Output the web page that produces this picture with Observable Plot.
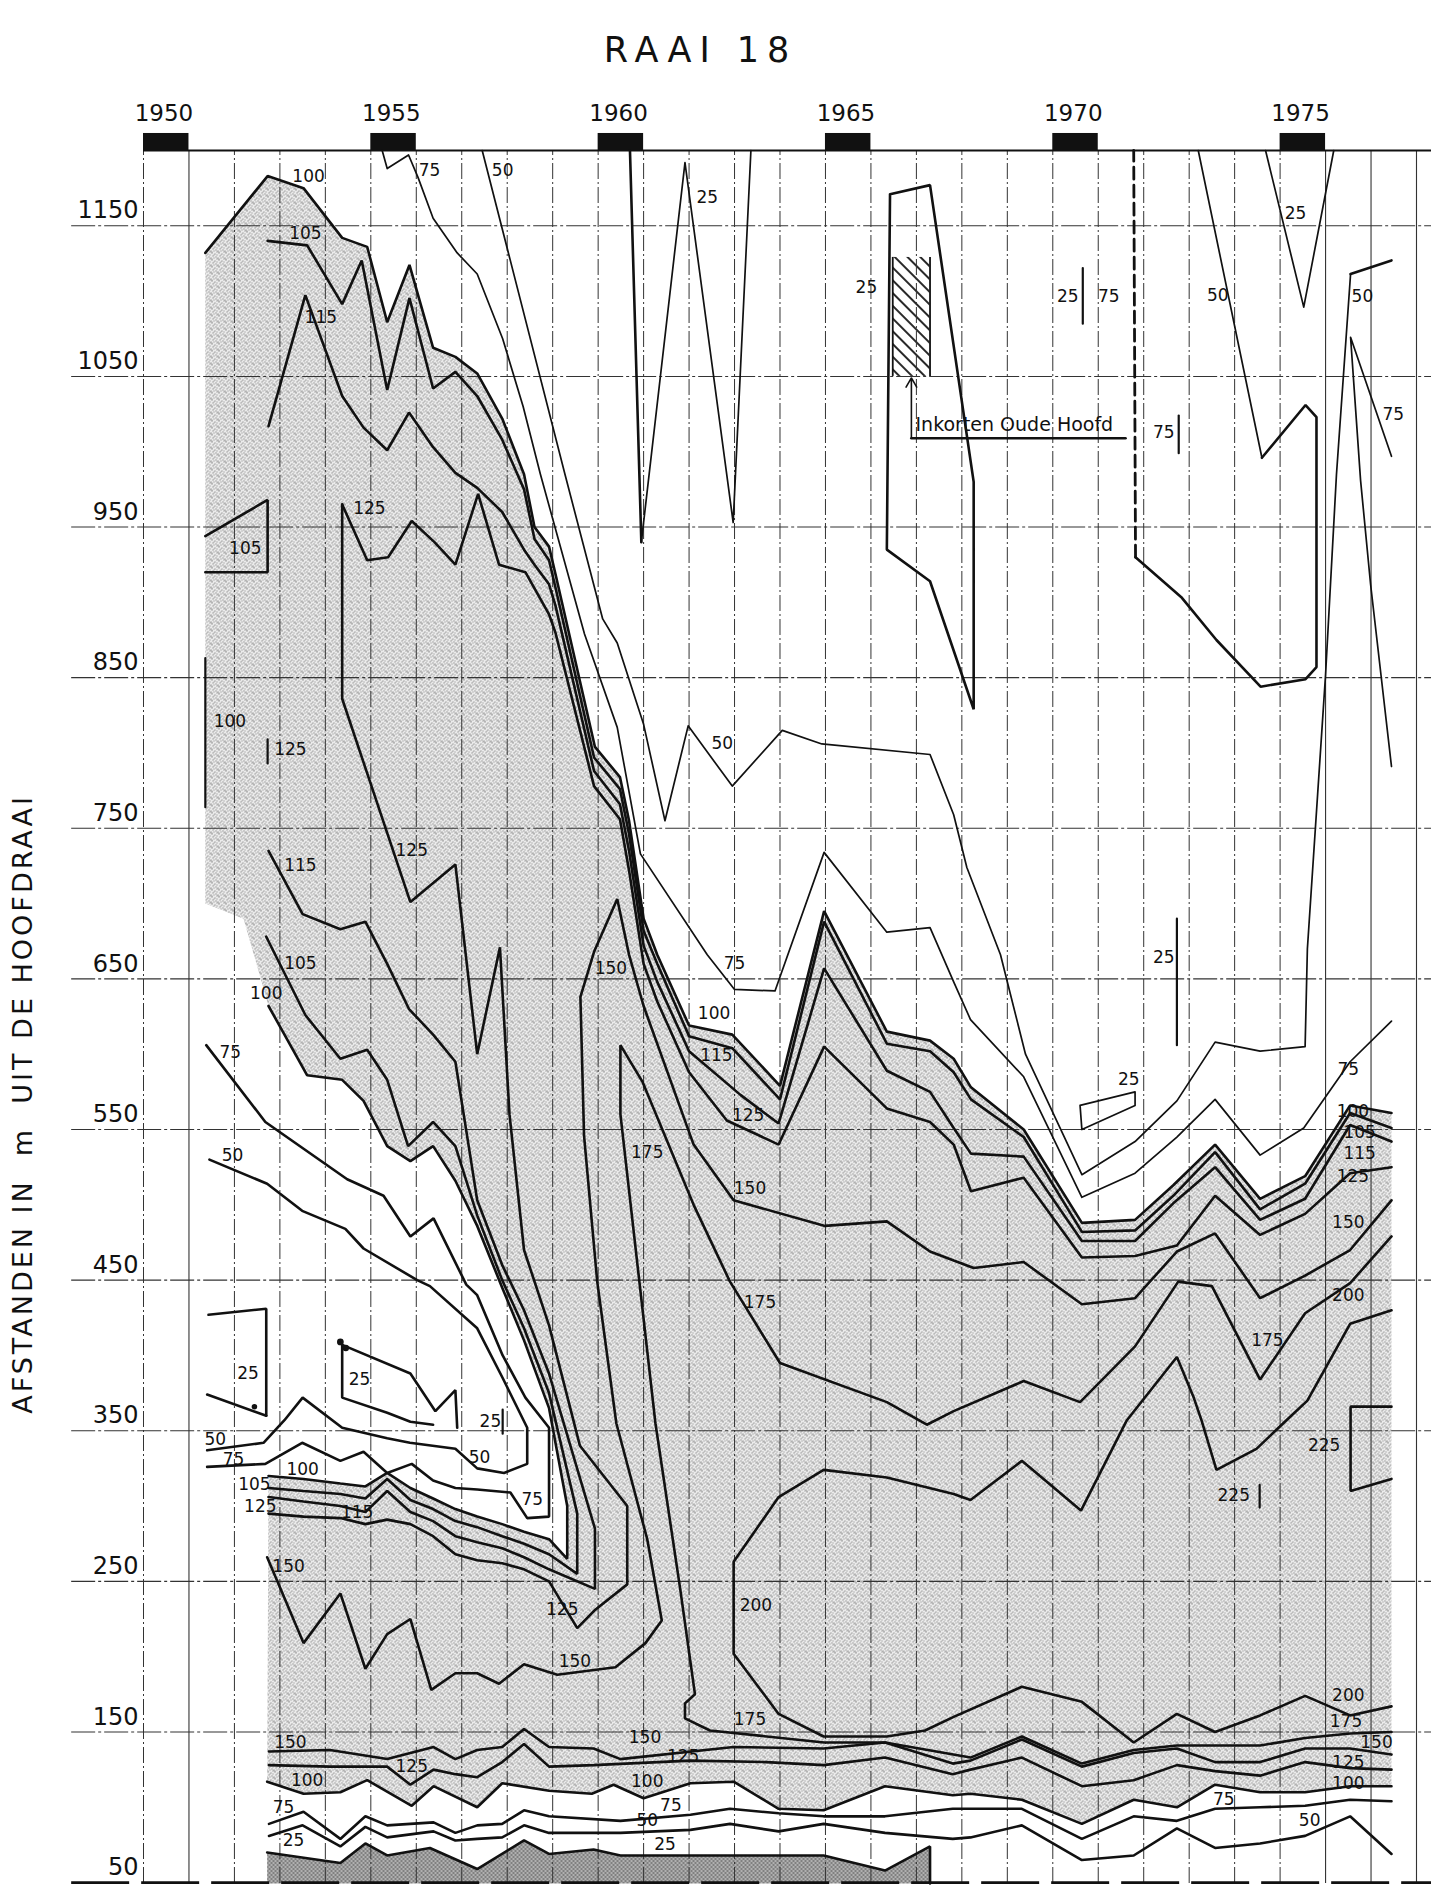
<!DOCTYPE html>
<html><head><meta charset="utf-8">
<script src="https://cdn.jsdelivr.net/npm/d3@7"></script>
<script src="https://cdn.jsdelivr.net/npm/@observablehq/plot@0.6"></script>
<style>html,body{margin:0;padding:0;background:#fff}</style>
</head><body>
<div id="chart"></div>
<script>
// ---------- axes / ticks ----------
const gridYears = d3.range(1950, 1979);
const solidYears = [1951, 1976, 1977, 1978];
const yearLabels = [1950, 1955, 1960, 1965, 1970, 1975];
const yTicks = [1150, 1050, 950, 850, 750, 650, 550, 450, 350, 250, 150, 50];

// ---------- contour lines: [year, distance m] ----------
const c100_top = [[1951.36,1132],[1952.73,1183],[1953.52,1175],[1954.37,1142],[1954.92,1136],[1955.36,1086],[1955.85,1124],[1956.37,1069],[1956.86,1063],[1957.34,1052],[1957.89,1022],[1958.37,985],[1958.6,950],[1958.92,937],[1959.06,919],[1959.93,804],[1960.48,784],[1960.68,755],[1961.0,690],[1961.3,666],[1962.0,619],[1962.95,613],[1964.0,579],[1964.97,695],[1966.35,615],[1967.3,609],[1967.82,597],[1968.2,578],[1969.36,550],[1970.64,488],[1971.81,490],[1972.65,513],[1973.57,540],[1974.56,504],[1975.55,519],[1976.54,566],[1977.45,561]];
const c105_top = [[1952.73,1140],[1953.6,1137],[1954.37,1098],[1954.8,1127],[1955.36,1041],[1955.85,1102],[1956.37,1042],[1956.86,1053],[1957.34,1037],[1957.89,1008],[1958.37,975],[1958.6,942],[1958.92,928],[1959.06,910],[1959.91,797],[1960.48,776],[1960.68,746],[1961.0,682],[1961.3,660],[1962.0,612],[1962.95,604],[1964.0,570],[1964.97,688],[1966.35,607],[1967.3,602],[1967.82,588],[1968.2,570],[1969.36,545],[1970.64,482],[1971.81,483],[1972.65,506],[1973.57,535],[1974.56,497],[1975.55,514],[1976.54,561],[1977.45,551]];
const c115_top = [[1952.75,1017],[1953.56,1104],[1954.37,1037],[1954.84,1016],[1955.36,1001],[1955.84,1026],[1956.37,1003],[1956.86,986],[1957.34,976],[1957.89,960],[1958.37,935],[1958.6,925],[1958.92,912],[1959.06,898],[1959.91,788],[1960.48,766],[1960.68,735],[1961.0,672],[1961.3,648],[1962.0,602],[1963.13,573],[1963.97,554],[1964.97,657],[1966.35,589],[1967.3,575],[1967.82,551],[1968.2,534],[1969.36,532],[1970.64,476],[1971.81,476],[1972.65,501],[1973.57,525],[1974.56,490],[1975.55,504],[1976.54,553],[1977.45,542]];
const c125_top = [[1954.37,965],[1954.92,928],[1955.38,930],[1955.9,954],[1956.4,940],[1956.86,925],[1957.36,972],[1957.82,925],[1958.4,920],[1958.92,892],[1959.06,880],[1959.91,778],[1960.48,756],[1960.68,722],[1961.0,660],[1961.3,635],[1962.0,588],[1962.83,556],[1963.97,540],[1964.97,605],[1966.35,564],[1967.3,555],[1967.82,540],[1968.2,509],[1969.36,518],[1970.64,465],[1971.81,466],[1972.73,473],[1973.57,506],[1974.56,480],[1975.55,494],[1976.54,521],[1977.45,525]];

const c100_ll = [[1952.75,632],[1953.6,586],[1954.37,583],[1954.84,569],[1955.36,539],[1955.87,529],[1956.37,539],[1956.86,516],[1957.34,486],[1957.89,445],[1958.37,410],[1958.92,365],[1959.32,300],[1959.32,265],[1958.92,278],[1958.37,283],[1957.89,288],[1957.34,293],[1956.86,298],[1956.37,305],[1955.87,312],[1955.36,322],[1954.88,313],[1954.33,315],[1953.52,318],[1952.75,320]];
const c105_ll = [[1952.7,678],[1953.56,626],[1954.33,597],[1954.92,603],[1955.36,583],[1955.82,539],[1956.37,555],[1956.86,539],[1957.34,493],[1957.89,450],[1958.37,418],[1958.92,375],[1959.54,295],[1959.54,255],[1958.92,268],[1958.37,275],[1957.89,280],[1957.34,286],[1956.86,290],[1956.37,298],[1955.87,304],[1955.36,318],[1954.88,305],[1954.33,308],[1953.52,310],[1952.75,312]];
const c115_ll = [[1952.75,735],[1953.5,693],[1954.33,683],[1954.88,688],[1955.36,660],[1955.84,630],[1956.37,613],[1956.86,595],[1957.2,530],[1957.34,503],[1957.89,460],[1958.37,430],[1958.92,388],[1959.93,285],[1959.93,245],[1958.92,258],[1958.37,266],[1957.89,272],[1957.34,276],[1956.86,280],[1956.37,290],[1955.87,296],[1955.36,310],[1954.88,296],[1954.33,300],[1953.52,303],[1952.75,306]];
const c125_ll = [[1954.37,965],[1954.37,836],[1955.87,701],[1956.86,726],[1957.34,600],[1957.84,671],[1958.05,560],[1958.37,470],[1958.92,420],[1959.6,340],[1960.64,300],[1960.64,248],[1959.93,231],[1959.54,219],[1958.92,250],[1958.37,258],[1957.89,262],[1957.34,264],[1956.86,268],[1956.37,280],[1955.87,288],[1955.36,291],[1954.88,288],[1954.33,292],[1953.52,293],[1952.75,295]];

const c75_ll = [[1951.38,606],[1952.68,555],[1954.48,517],[1955.28,506],[1955.87,479],[1956.38,491],[1957.1,447],[1957.34,440],[1957.9,400],[1958.4,372],[1958.92,352],[1958.92,293],[1958.44,292],[1958.07,309],[1957.34,311],[1956.86,312],[1956.37,317],[1955.9,328],[1955.36,322],[1954.84,336],[1954.33,330],[1953.49,342],[1952.68,328],[1951.4,326]];
const c50_ll = [[1951.45,530],[1952.72,514],[1953.49,496],[1954.44,484],[1954.84,471],[1956.02,450],[1956.3,446],[1957.34,418],[1957.9,385],[1958.44,352],[1958.44,328],[1957.93,322],[1957.34,325],[1956.86,338],[1955.86,342],[1955.36,345],[1954.37,352],[1953.5,372],[1953.1,357],[1952.64,342],[1951.4,337]];
const c25_lla = [[1951.43,427],[1952.7,431],[1952.7,360]];
const c25_llb = [[1951.4,374],[1952.7,360]];
const c25_llc = [[1954.37,407],[1955.87,388],[1956.42,363],[1956.86,377],[1956.9,352]];
const c25_lld = [[1954.37,407],[1954.37,372],[1955.36,362],[1955.87,356],[1956.37,354]];
const c105_tri = [[1951.36,944],[1952.73,968],[1952.73,920],[1951.36,920]];

const c150 = [[1952.72,266],[1953.52,209],[1954.33,242],[1954.88,192],[1955.36,215],[1955.87,225],[1956.33,178],[1956.86,189],[1957.34,189],[1957.82,182],[1958.37,195],[1959.1,188],[1960.38,193],[1961.04,209],[1961.4,224],[1961.08,278],[1960.4,355],[1959.98,449],[1959.69,546],[1959.61,638],[1959.91,668],[1960.42,703],[1960.68,666],[1961.0,632],[1962.1,540],[1962.98,503],[1964.99,486],[1966.35,489],[1967.3,469],[1967.82,463],[1968.26,458],[1969.36,462],[1970.64,434],[1971.81,438],[1972.73,469],[1973.57,481],[1974.56,438],[1975.55,453],[1976.54,470],[1977.45,503]];
const c175 = [[1977.45,150],[1976.54,149],[1975.55,146],[1974.56,141],[1973.57,141],[1972.73,141],[1971.78,138],[1970.64,129],[1969.32,147],[1968.19,133],[1966.31,143],[1964.97,143],[1962.46,151],[1961.91,159],[1961.91,169],[1962.13,175],[1961.8,246],[1961.26,355],[1960.49,560],[1960.49,606],[1960.97,582],[1962.1,500],[1962.9,449],[1964.0,395],[1966.35,369],[1967.23,354],[1967.82,363],[1969.36,383],[1970.6,369],[1971.81,406],[1972.76,449],[1973.5,446],[1974.56,384],[1975.55,428],[1976.54,448],[1977.45,479]];
const c200 = [[1977.45,167],[1976.54,161],[1975.55,174],[1974.56,161],[1973.57,150],[1972.73,162],[1971.78,143],[1970.64,170],[1969.32,180],[1967.82,160],[1967.19,151],[1966.35,147],[1964.96,147],[1963.97,162],[1962.98,202],[1962.98,263],[1963.97,306],[1964.96,324],[1966.35,319],[1967.82,308],[1968.19,304],[1969.32,330],[1970.62,297],[1971.63,357],[1972.73,399],[1973.1,372],[1973.27,357],[1973.6,324],[1974.48,338],[1975.14,357],[1975.6,370],[1976.54,421],[1977.45,430]];
const c225_r = [[1977.45,366],[1976.55,366],[1976.55,310],[1977.45,318]];

// bottom band
const c150b = [[1952.76,137],[1954.1,138],[1955.36,132],[1956.38,140],[1956.86,132],[1957.34,138],[1957.89,140],[1958.37,152],[1958.92,140],[1959.9,139],[1960.49,132],[1962.98,140],[1964.96,139],[1966.31,143],[1967.8,129],[1968.19,131],[1969.32,145],[1970.64,127],[1971.78,136],[1972.73,139],[1973.57,130],[1974.56,130],[1975.55,139],[1976.54,139],[1977.45,135]];
const c125b = [[1952.76,128],[1954.1,127],[1955.36,127],[1955.87,115],[1956.38,125],[1956.86,122],[1957.34,120],[1957.89,130],[1958.37,142],[1958.92,127],[1959.9,128],[1962.03,131],[1963.7,130],[1964.96,128],[1966.31,133],[1967.8,122],[1968.19,125],[1969.32,133],[1970.64,114],[1971.78,118],[1972.73,128],[1973.57,124],[1974.56,121],[1975.55,130],[1976.54,126],[1977.45,125]];
const c100b = [[1952.72,117],[1953.52,109],[1954.33,110],[1954.92,118],[1955.9,101],[1956.38,114],[1957.34,100],[1957.89,116],[1958.92,111],[1959.86,109],[1960.34,115],[1961.0,106],[1962.03,116],[1962.98,117],[1963.97,99],[1964.96,98],[1966.31,114],[1967.8,108],[1968.19,109],[1969.32,105],[1970.64,89],[1971.78,105],[1972.73,100],[1973.57,115],[1974.56,110],[1975.55,110],[1976.54,114],[1977.45,114]];
const c75b = [[1952.76,89],[1953.52,97],[1954.33,79],[1954.88,94],[1955.36,88],[1956.38,90],[1956.86,83],[1957.34,88],[1957.89,89],[1958.37,98],[1958.92,94],[1960.49,91],[1962.03,95],[1962.9,99],[1963.97,96],[1964.96,94],[1966.31,94],[1967.8,99],[1968.19,99],[1969.32,99],[1970.64,79],[1971.78,94],[1972.73,91],[1973.57,99],[1974.56,100],[1975.55,101],[1976.54,105],[1977.45,104]];
const c50b = [[1952.76,81],[1953.5,88],[1954.33,74],[1954.88,87],[1955.36,80],[1956.38,84],[1956.86,78],[1957.34,79],[1957.89,80],[1958.37,88],[1958.92,83],[1960.49,83],[1962.03,85],[1962.9,89],[1963.97,84],[1964.96,89],[1966.31,83],[1967.8,79],[1968.19,80],[1969.32,88],[1970.64,65],[1971.78,68],[1972.73,86],[1973.57,73],[1974.56,76],[1975.55,81],[1976.54,94],[1977.45,69]];
const c25b = [[1952.72,70],[1954.33,63],[1954.88,76],[1955.36,68],[1956.3,73],[1957.34,59],[1958.37,78],[1958.92,69],[1959.9,72],[1960.49,68],[1962.03,68],[1964.96,68],[1966.31,58],[1967.3,74],[1967.3,49.4]];

// upper / right thin lines
const c75_top = [[1955.25,1200],[1955.36,1188],[1955.83,1197],[1956.04,1182],[1956.37,1155],[1956.9,1132],[1957.34,1118],[1957.9,1075],[1958.35,1030],[1958.73,985],[1959.7,879],[1960.42,817],[1960.93,733],[1962.4,666],[1963.0,643],[1963.89,642],[1964.97,734],[1966.35,681],[1967.3,684],[1967.82,648],[1968.19,623],[1969.36,585],[1970.64,505],[1971.81,521],[1972.73,545],[1973.57,570],[1974.56,533],[1975.52,551],[1976.54,595],[1977.45,622]];
const c50_top = [[1957.45,1200],[1959.27,985],[1960.1,889],[1960.42,873],[1961.0,819],[1961.47,755],[1961.98,818],[1962.95,778],[1964.05,815],[1964.92,806],[1967.3,799],[1967.82,759],[1968.11,724],[1968.85,666],[1969.4,600],[1970.64,520],[1971.81,542],[1972.73,569],[1973.57,608],[1974.56,602],[1975.55,605],[1975.6,670],[1976.0,852],[1976.24,985],[1976.55,1118]];
const c50_topR = [[1976.55,1118],[1977.45,1127]];
const c25_v1 = [[1960.7,1200],[1960.95,940]];
const c25_v2 = [[1960.95,940],[1961.91,1192],[1962.97,953],[1963.36,1200]];
const c25_poly = [[1966.42,1171],[1967.3,1177],[1968.26,980],[1968.26,829],[1967.3,914],[1966.35,935],[1966.42,1171]];
const c25_v75 = [[1974.68,1200],[1975.52,1096],[1976.18,1200]];
const c75_right = [[1977.45,997],[1976.55,1076],[1976.77,981],[1976.99,912],[1977.45,791]];
const c50_trThin = [[1973.2,1200],[1974.6,996]];
const c50_tr = [[1974.6,996],[1975.56,1031],[1975.8,1023],[1975.8,857],[1975.56,849],[1974.57,844],[1973.6,875],[1972.84,903],[1971.82,930]];
const c75_dash = [[1971.82,930],[1971.78,1200]];
const c25_box = [[1970.6,566],[1971.81,575],[1971.81,566],[1970.64,550],[1970.6,566]];

// short labelled bars [year, m from, m to]
const bars = [[1970.66,1122,1085],[1972.77,1024,999],[1972.73,690,606],[1974.55,314,299],[1951.36,863,764],[1952.73,809,793],[1957.9,364,348]];
const dotsLL = [[1954.33,409,3.3],[1954.45,405,3],[1952.44,366,2.2]];

// hatched area + arrow
const hatchRect = [{x1:1966.48, x2:1967.3, y1:1050, y2:1129}];
const arrowData = [{x1:1966.89, y1:1009, x2:1966.89, y2:1049}];
const leader = [[1966.89,1009],[1971.6,1009]];
const note = "Inkorten Oude Hoofd";

// contour labels [text, year, m]
const labels = [["100",1953.63,1183],["105",1953.56,1145],["115",1953.9,1089],["75",1956.29,1187],["50",1957.9,1187],["25",1962.4,1169],["25",1965.9,1109],["25",1970.33,1103],["75",1971.23,1103],["50",1973.63,1104],["25",1975.34,1158],["50",1976.81,1103],["75",1977.49,1025],["75",1972.44,1013],["125",1954.97,962],["105",1952.24,936],["100",1951.9,821],["125",1953.23,802],["50",1962.73,806],["125",1955.9,735],["115",1953.45,725],["105",1953.45,660],["100",1952.7,640],["150",1960.28,657],["75",1963.0,660],["25",1972.44,664],["100",1962.55,627],["115",1962.6,599],["75",1951.91,601],["25",1971.67,583],["125",1963.3,559],["75",1976.5,590],["100",1976.6,562],["105",1976.75,548],["115",1976.75,534],["175",1961.08,535],["50",1951.96,533],["125",1976.6,519],["150",1963.34,511],["150",1976.5,488],["175",1963.56,435],["200",1976.5,440],["175",1974.72,410],["25",1952.3,388],["25",1954.75,384],["25",1957.63,356],["225",1975.97,340],["50",1951.58,344],["75",1951.98,331],["50",1957.39,332],["100",1953.5,324],["105",1952.44,314],["115",1954.7,296],["75",1958.55,304],["225",1973.98,307],["125",1952.57,300],["150",1953.19,260],["200",1963.47,234],["125",1959.21,231],["150",1959.49,197],["175",1963.34,158],["200",1976.5,174],["175",1976.45,157],["150",1977.12,143],["150",1953.23,143],["150",1961.03,146],["125",1955.9,127],["125",1961.87,134],["125",1976.5,130],["100",1953.6,118],["100",1961.08,117],["100",1976.5,116],["75",1953.08,100],["75",1961.6,101],["75",1973.76,105],["50",1961.08,91],["50",1975.65,91],["25",1953.3,78],["25",1961.47,75]];

// ---------- assemble ----------
const thickSpecs = [["c100_top",c100_top],["c105_top",c105_top],["c115_top",c115_top],["c125_top",c125_top],["c100_ll",c100_ll],["c105_ll",c105_ll],["c115_ll",c115_ll],["c125_ll",c125_ll],["c75_ll",c75_ll],["c50_ll",c50_ll],["c25_lla",c25_lla],["c25_llb",c25_llb],["c25_llc",c25_llc],["c25_lld",c25_lld],["c105_tri",c105_tri],["c150",c150],["c175",c175],["c200",c200],["c225_r",c225_r],["c150b",c150b],["c125b",c125b],["c100b",c100b],["c75b",c75b],["c50b",c50b],["c25b",c25b],["c50_topR",c50_topR],["c25_v1",c25_v1],["c25_poly",c25_poly],["c50_tr",c50_tr],["leader",leader]];
const thinSpecs = [["c75_top",c75_top],["c50_top",c50_top],["c25_v2",c25_v2],["c25_v75",c25_v75],["c75_right",c75_right],["c50_trThin",c50_trThin],["c25_box",c25_box]];
const toRows = specs => specs.flatMap(([id, pts]) => pts.map(([x, y]) => ({id, x, y})));
const barRows = bars.flatMap(([x, a, b], i) => [{id:"b"+i, x, y:a}, {id:"b"+i, x, y:b}]);

const stipPoly = [...c100_top, [1977.45,114], ...c100b.slice().reverse(), ...c100_ll.slice().reverse(), [1952.2,690], [1951.36,700]];
const darkPoly = [...c25b, [1952.72,49.4]];

const X0 = 1950, X1 = 1978.33;
const chart = Plot.plot({
  width: 1431, height: 1897,
  marginLeft: 143, marginRight: 0, marginTop: 150, marginBottom: 14,
  x: {domain: [X0, X1], axis: null},
  y: {domain: [49.4, 1200], axis: null},
  style: {fontFamily: "DejaVu Sans", background: "#fff", color: "#111", overflow: "visible"},
  marks: [
    Plot.line(stipPoly, {x: d => d[0], y: d => d[1], fill: "url(#stip)", stroke: "none"}),
    Plot.line(darkPoly, {x: d => d[0], y: d => d[1], fill: "url(#dark)", stroke: "none"}),
    Plot.rect(hatchRect, {x1: "x1", x2: "x2", y1: "y1", y2: "y2", fill: "url(#hatch)"}),
    Plot.ruleX(gridYears.filter(d => !solidYears.includes(d)), {y1: 49.4, y2: 1200, stroke: "#333", strokeWidth: 1, strokeDasharray: "16,3,2,3"}),
    Plot.ruleX(solidYears, {y1: 49.4, y2: 1200, stroke: "#333", strokeWidth: 1.1}),
    Plot.ruleY(yTicks.filter(d => d !== 50), {x1: 1948.42, x2: X1, stroke: "#333", strokeWidth: 1.1, strokeDasharray: "24,3,3,3"}),
    Plot.ruleY([50], {x1: 1948.42, x2: X1, stroke: "#111", strokeWidth: 2.6, strokeDasharray: "58,12"}),
    Plot.ruleY([1200], {x1: X0, x2: X1, stroke: "#111", strokeWidth: 2.2}),
    Plot.rect(yearLabels, {x1: d => d, x2: d => d + 1, y1: 1200, y2: 1211.3, fill: "#111"}),
    Plot.text(yearLabels, {x: d => d + 0.45, y: 1200, dy: -37, text: d => String(d), fontSize: 23}),
    Plot.text(yTicks, {x: X0, y: d => d, dx: -5, dy: -15, text: d => String(d), textAnchor: "end", fontSize: 24}),
    Plot.ruleX([hatchRect[0].x1, hatchRect[0].x2], {y1: 1050, y2: 1129, strokeWidth: 1.8, stroke: "#111"}),
    Plot.line(toRows(thickSpecs), {x: "x", y: "y", z: "id", stroke: "#111", strokeWidth: 2.6, strokeLinejoin: "miter"}),
    Plot.line(toRows(thinSpecs), {x: "x", y: "y", z: "id", stroke: "#111", strokeWidth: 1.7}),
    Plot.line(c75_dash, {x: d => d[0], y: d => d[1], stroke: "#111", strokeWidth: 2.8, strokeDasharray: "12,6"}),
    Plot.line(barRows, {x: "x", y: "y", z: "id", stroke: "#111", strokeWidth: 2.2}),
    Plot.dot(dotsLL, {x: d => d[0], y: d => d[1], r: d => d[2], fill: "#111", stroke: "none"}),
    Plot.arrow(arrowData, {x1: "x1", y1: "y1", x2: "x2", y2: "y2", stroke: "#111", strokeWidth: 1.6, headLength: 10}),
    Plot.text([note], {x: 1966.98, y: 1018, text: d => d, textAnchor: "start", fontSize: 19}),
    Plot.text(labels, {x: d => d[1], y: d => d[2], text: d => d[0], fontSize: 17}),
    Plot.text(["RAAI 18"], {frameAnchor: "top", dx: -87, dy: -100, text: d => d, fontSize: 35, textAnchor: "middle", lineAnchor: "middle"}),
    Plot.text(["AFSTANDEN IN  m  UIT DE HOOFDRAAI"], {frameAnchor: "left", dx: -120, y: 567, rotate: -90, text: d => d, fontSize: 27, textAnchor: "middle", lineAnchor: "middle"})
  ]
});

const defs = d3.select(chart).insert("defs", ":first-child");
defs.html(`
<pattern id="stip" width="7" height="7" patternUnits="userSpaceOnUse">
 <rect width="7" height="7" fill="#ebebeb"/>
 <rect x="1" y="0" width="1" height="1" fill="#666"/>
 <rect x="4" y="1" width="1" height="1" fill="#777"/>
 <rect x="6" y="2" width="1" height="1" fill="#888"/>
 <rect x="2" y="3" width="1" height="1" fill="#777"/>
 <rect x="5" y="4" width="1" height="1" fill="#666"/>
 <rect x="0" y="5" width="1" height="1" fill="#777"/>
 <rect x="3" y="5" width="1" height="1" fill="#888"/>
 <rect x="6" y="6" width="1" height="1" fill="#777"/>
 <rect x="1" y="6" width="1" height="1" fill="#999"/>
 <rect x="3" y="2" width="1" height="1" fill="#999"/>
</pattern>
<pattern id="dark" width="4" height="4" patternUnits="userSpaceOnUse">
 <rect width="4" height="4" fill="#b0b0b0"/>
 <rect x="0" y="0" width="2" height="1" fill="#505050"/>
 <rect x="2" y="2" width="2" height="1" fill="#505050"/>
</pattern>
<pattern id="hatch" width="9" height="9" patternUnits="userSpaceOnUse" patternTransform="rotate(-45)">
 <line x1="1" y1="0" x2="1" y2="9" stroke="#111" stroke-width="1.8"/>
</pattern>`);
d3.select(chart).selectAll("text").each(function() {
  if (this.textContent === "RAAI 18") this.style.letterSpacing = "8px";
  if (this.textContent.startsWith("AFSTANDEN")) this.style.letterSpacing = "3px";
});
document.getElementById("chart").append(chart);
</script>
</body></html>
